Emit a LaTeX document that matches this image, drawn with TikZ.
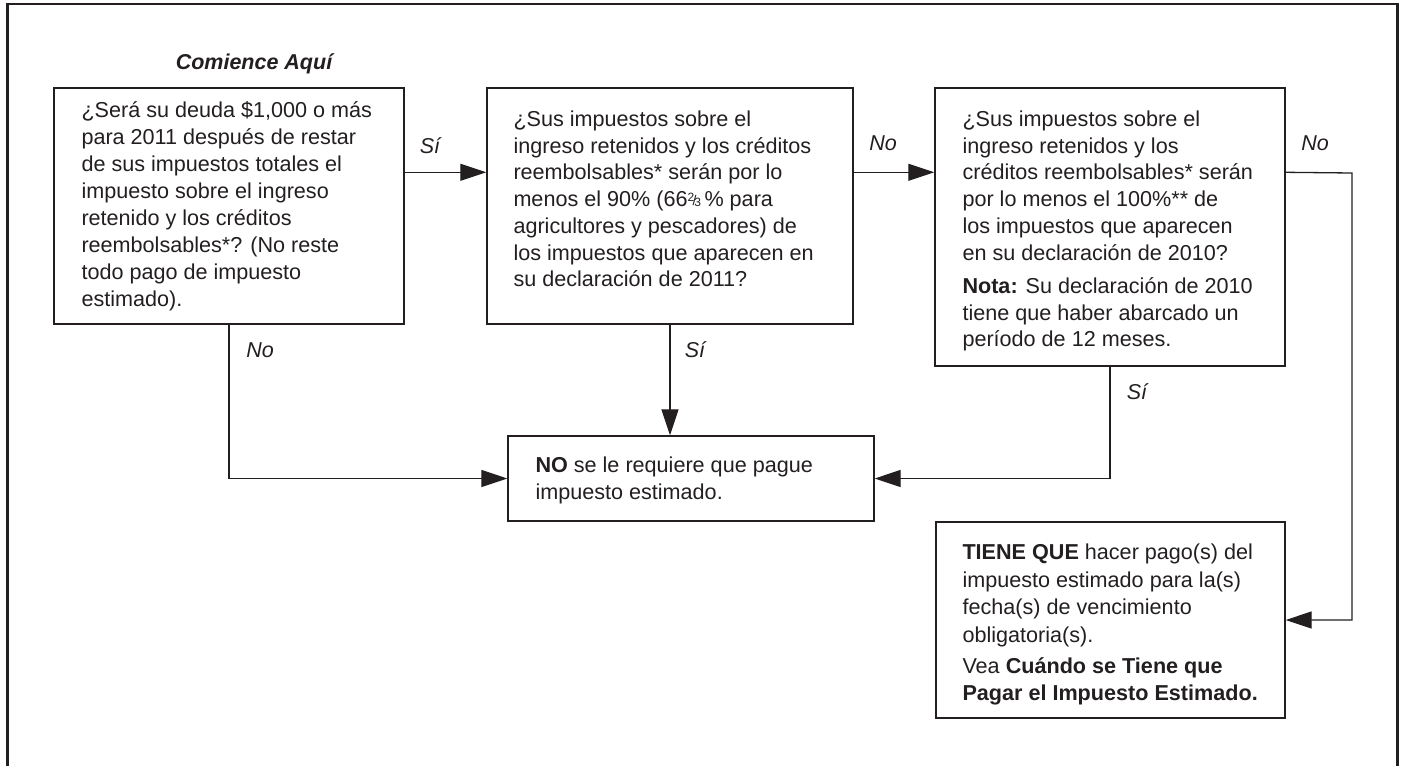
\documentclass[tikz,border=0pt]{standalone}
\usepackage{fontspec}
\setmainfont{Liberation Sans}
\usepackage{xcolor}
\usetikzlibrary{arrows.meta}
\definecolor{ink}{HTML}{231F20}
\newcommand{\frtwothird}{{\raisebox{0.45ex}{\fontsize{12}{12}\selectfont 2}\kern-0.08em\raisebox{0.1ex}{\fontsize{14}{14}\selectfont /}\kern-0.1em{\fontsize{12}{12}\selectfont 3}}}
\newcommand{\topstrut}{\rule{0pt}{22pt}}

\begin{document}
\begin{tikzpicture}[line cap=butt,line join=miter,x=1pt,y=-1pt,
  >={Triangle[length=26pt,width=17pt]},
  box/.style={draw=ink,line width=1.4pt,inner sep=0pt},
  txt/.style={anchor=north west,inner sep=0pt,align=left,text=ink,
    font=\fontsize{21.6}{27}\selectfont},
  flow/.style={draw=ink,line width=1.3pt,->},
  lbl/.style={text=ink,font=\fontsize{21.5}{26}\selectfont\itshape}]
\useasboundingbox (0,0) rectangle (1403,766);
% outer frame, open at the bottom
\draw[ink,line width=2.2pt] (7.5,766) -- (7.5,4) -- (1397.5,4) -- (1397.5,766);
\node[text=ink,font=\fontsize{21.5}{26}\selectfont\bfseries\itshape] (start) at (254,64) {Comience Aquí};
% boxes
\node[box,minimum width=350pt,minimum height=236pt] (q1) at (229,206) {};
\node[box,minimum width=366pt,minimum height=236pt] (q2) at (670,206) {};
\node[box,minimum width=350pt,minimum height=278pt] (q3) at (1110,227) {};
\node[box,minimum width=366pt,minimum height=85pt] (r1) at (691,478.5) {};
\node[box,minimum width=349pt,minimum height=196pt] (r2) at (1110.5,620) {};
% texts
\node[txt] (q1t) at ([shift={(28pt,-8pt)}]q1.north west)
  {\topstrut¿Será su deuda \$1,000 o más\\para 2011 después de restar\\de sus impuestos totales el\\impuesto sobre el ingreso\\retenido y los créditos\\reembolsables*? (No reste\\todo pago de impuesto\\estimado).};
\node[txt,font=\fontsize{21.6}{26.7}\selectfont] (q2t) at ([shift={(27pt,-17pt)}]q2.north west)
  {\topstrut¿Sus impuestos sobre el\\ingreso retenidos y los créditos\\reembolsables* serán por lo\\menos el 90\% (66\frtwothird\,\% para\\agricultores y pescadores) de\\los impuestos que aparecen en\\su declaración de 2011?};
\node[txt,font=\fontsize{21.6}{26.7}\selectfont] (q3t) at ([shift={(28pt,-17pt)}]q3.north west)
  {\topstrut¿Sus impuestos sobre el\\ingreso retenidos y los\\créditos reembolsables* serán\\por lo menos el 100\%** de\\los impuestos que aparecen\\en su declaración de 2010?\\[6.6pt]\textbf{Nota:} Su declaración de 2010\\tiene que haber abarcado un\\período de 12 meses.};
\node[txt] (r1t) at ([shift={(28pt,-15pt)}]r1.north west)
  {\topstrut\textbf{NO} se le requiere que pague\\impuesto estimado.};
\node[txt,font=\fontsize{21.6}{27.5}\selectfont] (r2t) at ([shift={(27pt,-16pt)}]r2.north west)
  {\topstrut\textbf{TIENE QUE} hacer pago(s) del\\impuesto estimado para la(s)\\fecha(s) de vencimiento\\obligatoria(s).\\[3.8pt]Vea \textbf{Cuándo se Tiene que}\\\textbf{Pagar el Impuesto Estimado.}};
% connectors
\draw[flow] ([yshift=-85pt]q1.north east) -- ([yshift=-85pt]q2.north west);
\draw[flow] ([yshift=-85pt]q2.north east) -- ([yshift=-85pt]q3.north west);
\coordinate (turn) at (1352,173);
\draw[flow] ([yshift=-85pt]q3.north east) -- (turn) |- (r2.east);
\draw[flow] (q1.south) |- (r1.west);
\draw[flow] (q2.south) -- (q2.south |- r1.north);
\draw[flow] (q3.south) |- (r1.east);
% labels
\node[lbl] (l1) at (430,146) {Sí};
\node[lbl] (l2) at (883,143) {No};
\node[lbl] (l3) at (1315,143) {No};
\node[lbl] (l4) at (260,350) {No};
\node[lbl] (l5) at (695,350) {Sí};
\node[lbl] (l6) at (1137,392) {Sí};
\end{tikzpicture}
\end{document}
